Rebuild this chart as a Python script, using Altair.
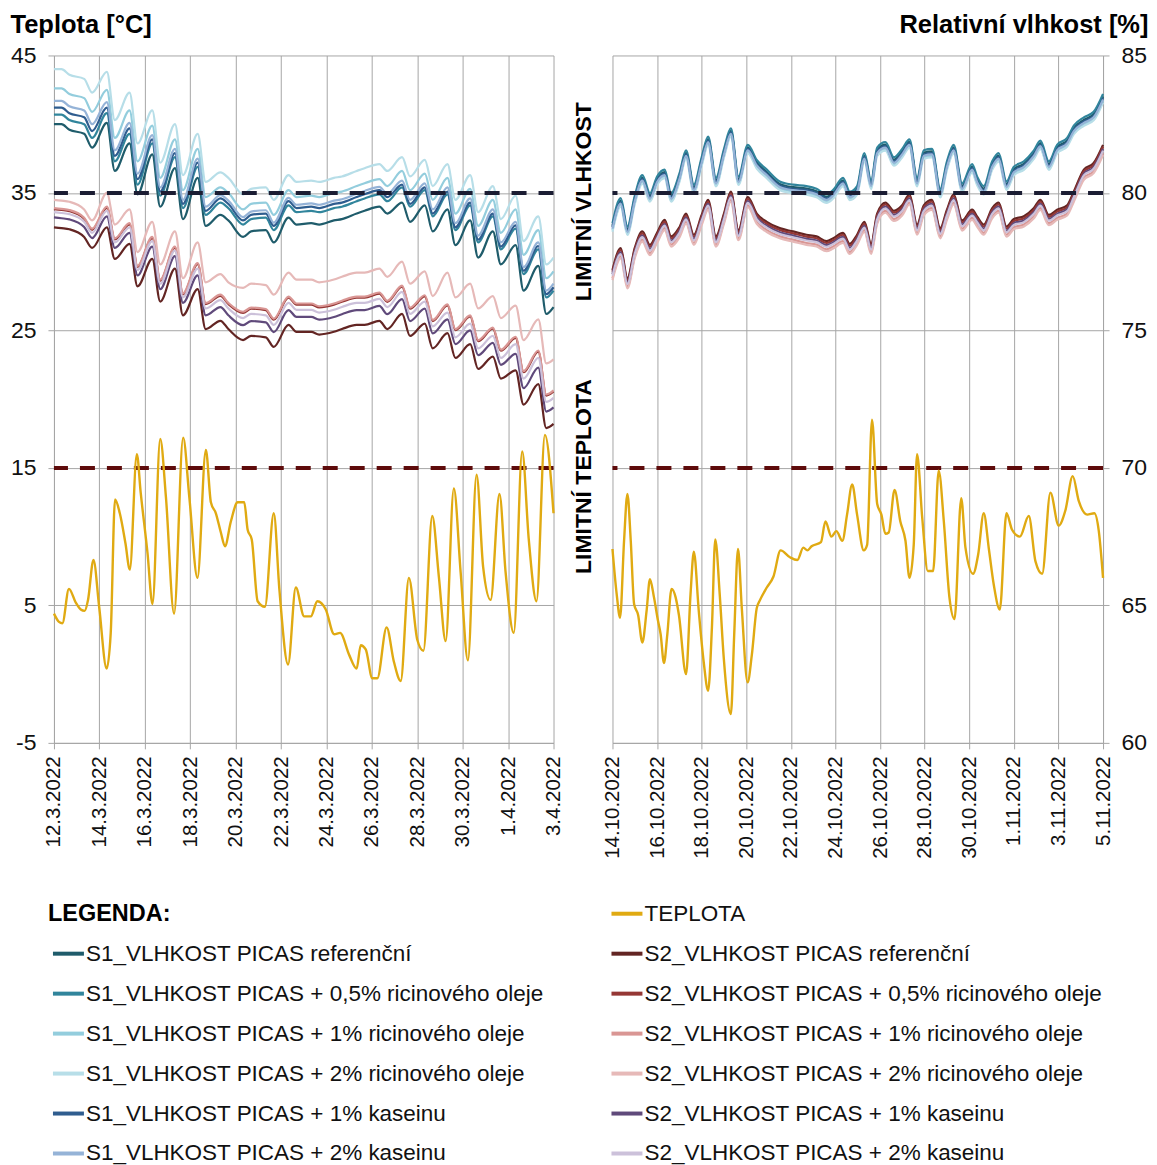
import altair as alt
import pandas as pd

FONT = "Liberation Sans"
INK = "#111111"
GRID = "#a6a6a6"

LEFT_START, LEFT_END = "2022-03-12", "2022-04-03"
RIGHT_START, RIGHT_END = "2022-10-14", "2022-11-05"

T_TICKS = [-5, 5, 15, 25, 35, 45]
RH_TICKS = [60, 65, 70, 75, 80, 85]
RH_LIMIT = 80
T_LIMIT = 15

NAMES_S1 = ["S1_VLHKOST PICAS referenční",
            "S1_VLHKOST PICAS + 0,5% ricinového oleje",
            "S1_VLHKOST PICAS + 1% ricinového oleje",
            "S1_VLHKOST PICAS + 2% ricinového oleje",
            "S1_VLHKOST PICAS + 1% kaseinu",
            "S1_VLHKOST PICAS + 2% kaseinu"]
NAMES_S2 = [n.replace("S1_", "S2_") for n in NAMES_S1]
COLORS_S1 = ["#1f5c6b", "#31859c", "#93cddd", "#b7dee8", "#2f5d8f", "#95b3d7"]
COLORS_S2 = ["#632523", "#953735", "#d99694", "#e6b9b8", "#604a7b", "#ccc1da"]
TEMP_NAME = "TEPLOTA"
TEMP_COLOR = "#e0aa12"
LIM_RH_COLOR = "#1b1d33"
LIM_T_COLOR = "#5e0b0b"

# ---------------- left panel (March 2022), days after 12.3.2022 ----------------
GRID_L = [0, 0.33, 0.68, 1.33, 1.68, 2.33, 2.68, 3.33, 3.68, 4.33, 4.68, 5.33, 5.68, 6.33, 6.68,
          7.33, 7.68, 8.33, 8.68, 9.33, 9.68, 10.33, 10.68, 11.33, 11.68, 12.33, 12.68, 13.33,
          13.68, 14.33, 14.68, 15.33, 15.68, 16.33, 16.68, 17.33, 17.68, 18.33, 18.68, 19.33,
          19.68, 20.33, 20.68, 21.33, 21.68, 22]

S1L_REF = [82.5, 82.5, 82.3, 82.15, 81.65, 82.55, 80.8, 81.8, 79.95, 81.4, 79.5, 80.9, 79.05, 80.55, 78.8, 79.2, 79.0, 78.4, 78.6, 78.65, 78.2, 79.1, 78.85, 78.9, 78.85, 79.0, 79.05, 79.25, 79.35, 79.5, 79.25,
           79.65, 78.95, 79.55, 78.6, 79.4, 78.1, 79.0, 77.65, 78.6, 77.4, 78.1, 76.45, 77.35, 75.6, 75.85]
S1L_R05 = [82.85, 82.85, 82.65, 82.5, 82.0, 82.9, 81.15, 82.15, 80.3, 81.8, 79.9, 81.3, 79.45, 80.95, 79.2, 79.65, 79.45, 78.85, 79.05, 79.1, 78.65, 79.55, 79.3, 79.35, 79.3, 79.45, 79.5, 79.7, 79.8, 79.95, 79.7,
           80.2, 79.5, 80.1, 79.15, 79.95, 78.65, 79.55, 78.2, 79.15, 77.95, 78.7, 77.05, 77.95, 76.2, 76.45]
S1L_R1 = [83.8, 83.8, 83.6, 83.45, 82.95, 83.75, 82.0, 83.0, 81.15, 82.45, 80.55, 81.95, 80.1, 81.6, 79.85, 80.2, 80.0, 79.4, 79.6, 79.65, 79.2, 80.1, 79.85, 79.9, 79.85, 80.0, 80.05, 80.25, 80.35, 80.5, 80.25,
          80.8, 80.1, 80.7, 79.75, 80.55, 79.25, 80.15, 78.8, 79.75, 78.55, 79.4, 77.75, 78.65, 76.9, 77.15]
S1L_R2 = [84.5, 84.5, 84.3, 84.15, 83.65, 84.4, 82.65, 83.65, 81.8, 83.0, 81.1, 82.5, 80.65, 82.15, 80.4, 80.75, 80.55, 79.95, 80.15, 80.2, 79.75, 80.65, 80.4, 80.45, 80.4, 80.55, 80.6, 80.8, 80.9, 81.05, 80.8,
          81.3, 80.6, 81.2, 80.25, 81.05, 79.75, 80.65, 79.3, 80.25, 79.05, 79.9, 78.25, 79.15, 77.4, 77.65]
S1L_K1 = [83.1, 83.1, 82.9, 82.75, 82.25, 83.1, 81.35, 82.35, 80.5, 81.95, 80.05, 81.45, 79.6, 81.1, 79.35, 79.8, 79.6, 79.0, 79.2, 79.25, 78.8, 79.7, 79.45, 79.5, 79.45, 79.6, 79.65, 79.85, 79.95, 80.1, 79.85,
          80.3, 79.6, 80.2, 79.25, 80.05, 78.75, 79.65, 78.3, 79.25, 78.05, 78.82, 77.17, 78.07, 76.32, 76.57]
S1L_K2 = [83.35, 83.35, 83.15, 83.0, 82.5, 83.3, 81.55, 82.55, 80.7, 82.1, 80.2, 81.6, 79.75, 81.25, 79.5, 79.92, 79.72, 79.12, 79.32, 79.37, 78.92, 79.82, 79.57, 79.62, 79.57, 79.72, 79.77, 79.97, 80.07, 80.22, 79.97,
          80.45, 79.75, 80.35, 79.4, 80.2, 78.9, 79.8, 78.45, 79.4, 78.2, 78.95, 77.3, 78.2, 76.45, 76.7]

S2L_REF = [78.75, 78.72, 78.68, 78.4, 78.0, 78.75, 77.6, 78.15, 76.6, 77.6, 76.05, 77.25, 75.55, 76.5, 75.05, 75.35, 75.05,
           74.65, 74.8, 74.75, 74.4, 75.2, 74.95, 74.95, 74.85, 74.95, 75.05, 75.2, 75.2, 75.35, 75.05, 75.6, 74.8, 75.25, 74.35,
           74.9, 74.0, 74.5, 73.6, 74.05, 73.25, 73.55, 72.3, 73.05, 71.45, 71.6]
S2L_R05 = [79.41, 79.38, 79.34, 79.06, 78.66, 79.46, 78.31, 78.86, 77.31, 78.36, 76.81, 78.01, 76.31, 77.41, 75.96, 76.26, 75.96,
           75.64, 75.79, 75.74, 75.39, 76.19, 75.94, 75.94, 75.84, 75.94, 76.04, 76.19, 76.19, 76.34, 76.04, 76.59, 75.79, 76.24, 75.34,
           75.91, 75.01, 75.51, 74.61, 75.06, 74.26, 74.73, 73.48, 74.23, 72.63, 72.78]
S2L_R1 = [79.45, 79.42, 79.38, 79.1, 78.7, 79.5, 78.35, 78.9, 77.35, 78.4, 76.85, 78.05, 76.35, 77.45, 76.0, 76.3, 76.0,
          75.68, 75.83, 75.78, 75.43, 76.23, 75.98, 75.98, 75.88, 75.98, 76.08, 76.23, 76.23, 76.38, 76.08, 76.63, 75.83, 76.28, 75.38,
          75.95, 75.05, 75.55, 74.65, 75.1, 74.3, 74.77, 73.52, 74.27, 72.67, 72.82]
S2L_R2 = [79.75, 79.72, 79.68, 79.4, 79.0, 80.0, 78.85, 79.4, 77.85, 78.95, 77.4, 78.6, 76.9, 78.2, 76.75, 77.05, 76.75,
          76.55, 76.7, 76.65, 76.3, 77.1, 76.85, 76.85, 76.75, 76.85, 76.95, 77.1, 77.1, 77.25, 76.95, 77.5, 76.7, 77.15, 76.25,
          77.1, 76.2, 76.7, 75.8, 76.25, 75.45, 75.9, 74.65, 75.4, 73.8, 73.95]
S2L_K1 = [79.11, 79.08, 79.04, 78.76, 78.36, 79.15, 78.0, 78.55, 77.0, 78.05, 76.5, 77.7, 76.0, 77.0, 75.55, 75.85, 75.55,
          75.19, 75.34, 75.29, 74.94, 75.74, 75.49, 75.49, 75.39, 75.49, 75.59, 75.74, 75.74, 75.89, 75.59, 76.14, 75.34, 75.79, 74.89,
          75.4, 74.5, 75.0, 74.1, 74.55, 73.75, 74.15, 72.9, 73.65, 72.05, 72.2]
S2L_K2 = [79.3, 79.27, 79.23, 78.95, 78.55, 79.35, 78.2, 78.75, 77.2, 78.25, 76.7, 77.9, 76.2, 77.25, 75.8, 76.1, 75.8,
          75.45, 75.6, 75.55, 75.2, 76.0, 75.75, 75.75, 75.65, 75.75, 75.85, 76.0, 76.0, 76.15, 75.85, 76.4, 75.6, 76.05, 75.15,
          75.65, 74.75, 75.25, 74.35, 74.8, 74.0, 74.5, 73.25, 74.0, 72.4, 72.55]

TL_DAYS = [0, 0.22, 0.37, 0.66, 0.96, 1.18, 1.35, 1.5, 1.74, 1.99, 2.32, 2.5, 2.69, 2.9, 3.15, 3.34, 3.65, 3.82, 4.12, 4.34, 4.68, 4.93, 5.29, 5.69, 5.96, 6.32, 6.69, 6.91, 7.13, 7.35, 7.53, 7.79, 8.09, 8.24, 8.38, 8.53, 8.71, 8.97, 9.29, 9.68, 9.93, 10.31, 10.65, 11.02, 11.31, 11.6, 11.97, 12.34, 12.6, 13.0, 13.33, 13.51, 13.73, 14.02, 14.24, 14.65, 14.97, 15.27, 15.63, 16.0, 16.27, 16.66, 16.95, 17.25, 17.61, 17.91, 18.23, 18.61, 18.9, 19.23, 19.62, 19.89, 20.25, 20.62, 20.91, 21.25, 21.62, 22.0]
TL_VALS = [4.4, 3.8, 3.7, 6.2, 5.2, 4.7, 4.6, 5.4, 8.3, 4.9, 0.4, 3.0, 12.7, 11.7, 9.5, 7.6, 16.0, 13.2, 8.8, 5.1, 17.1, 12.9, 4.4, 17.2, 12.9, 7.0, 16.3, 12.5, 11.7, 10.3, 9.3, 11.1, 12.5, 12.5, 12.5, 10.5, 9.8, 5.3, 4.9, 11.7, 6.1, 0.7, 6.3, 4.2, 4.2, 5.3, 4.7, 2.9, 3.0, 1.4, 0.4, 2.1, 1.8, -0.3, -0.3, 3.4, 0.9, -0.5, 7.0, 2.5, 1.7, 11.5, 7.1, 2.4, 13.5, 7.4, 1.0, 14.5, 7.8, 5.4, 13.1, 7.4, 3.0, 16.2, 9.8, 5.3, 17.4, 11.7]

# ---------------- right panel (October 2022), days after 14.10.2022 ----------------
GRID_R = [0, 0.37, 0.67, 1.0, 1.34, 1.68, 2.0, 2.34, 2.63, 3.0, 3.3, 3.65, 4.0, 4.29, 4.64, 5.0, 5.31,
          5.65, 6.07, 6.47, 6.92, 7.5, 8.1, 8.7, 9.15, 9.6, 9.9, 10.34, 10.64, 10.97, 11.3, 11.6,
          11.87, 12.24, 12.62, 12.99, 13.32, 13.66, 13.96, 14.33, 14.7, 15.0, 15.3, 15.68, 16.13,
          16.35, 16.65, 17.03, 17.32, 17.67, 18.0, 18.45, 18.9, 19.19, 19.57, 19.94, 20.39, 20.69,
          21.14, 21.58, 22.0]

S1R_REF = [78.81, 79.72, 78.69, 79.81, 80.56, 79.9, 80.51, 80.76, 79.9, 80.61, 81.46, 80.21, 81.21, 81.96, 80.46, 81.51, 82.26, 80.51, 81.66, 81.11, 80.76, 80.33, 80.21, 80.16, 80.06, 79.86, 80.02, 80.46, 79.96, 80.16, 81.36, 80.36, 81.56, 81.76, 81.21, 81.51, 81.86, 80.46, 81.46, 81.51, 80.06, 81.06, 81.66, 80.26, 80.96, 80.51, 80.16, 81.06, 81.36, 80.33, 80.86, 81.06, 81.46, 81.81, 81.06, 81.66, 81.91, 82.36, 82.66, 82.86, 83.51]
S1R_R05 = [78.9, 79.81, 78.78, 79.9, 80.65, 79.99, 80.6, 80.85, 79.99, 80.7, 81.55, 80.3, 81.3, 82.05, 80.55, 81.6, 82.35, 80.6, 81.75, 81.2, 80.85, 80.42, 80.3, 80.25, 80.15, 79.95, 80.11, 80.55, 80.05, 80.25, 81.45, 80.45, 81.65, 81.85, 81.3, 81.6, 81.95, 80.55, 81.55, 81.6, 80.15, 81.15, 81.75, 80.35, 81.05, 80.6, 80.25, 81.15, 81.45, 80.42, 80.95, 81.15, 81.55, 81.9, 81.15, 81.75, 82.0, 82.45, 82.75, 82.95, 83.6]
S1R_R1 = [78.65, 79.56, 78.53, 79.65, 80.4, 79.74, 80.35, 80.6, 79.74, 80.45, 81.3, 80.05, 81.05, 81.8, 80.3, 81.35, 82.1, 80.35, 81.5, 80.95, 80.6, 80.17, 80.05, 80.0, 79.9, 79.7, 79.86, 80.3, 79.8, 80.0, 81.2, 80.2, 81.4, 81.6, 81.05, 81.35, 81.7, 80.3, 81.3, 81.35, 79.9, 80.9, 81.5, 80.1, 80.8, 80.35, 80.0, 80.9, 81.2, 80.17, 80.7, 80.9, 81.3, 81.65, 80.9, 81.5, 81.75, 82.2, 82.5, 82.7, 83.35]
S1R_R2 = [78.59, 79.5, 78.47, 79.59, 80.34, 79.68, 80.29, 80.54, 79.68, 80.39, 81.24, 79.99, 80.99, 81.74, 80.24, 81.29, 82.04, 80.29, 81.44, 80.89, 80.54, 80.11, 79.99, 79.94, 79.84, 79.64, 79.8, 80.24, 79.74, 79.94, 81.14, 80.14, 81.34, 81.54, 80.99, 81.29, 81.64, 80.24, 81.24, 81.29, 79.84, 80.84, 81.44, 80.04, 80.74, 80.29, 79.94, 80.84, 81.14, 80.11, 80.64, 80.84, 81.24, 81.59, 80.84, 81.44, 81.69, 82.14, 82.44, 82.64, 83.29]
S1R_K1 = [78.75, 79.66, 78.63, 79.75, 80.5, 79.84, 80.45, 80.7, 79.84, 80.55, 81.4, 80.15, 81.15, 81.9, 80.4, 81.45, 82.2, 80.45, 81.6, 81.05, 80.7, 80.27, 80.15, 80.1, 80.0, 79.8, 79.96, 80.4, 79.9, 80.1, 81.3, 80.3, 81.5, 81.7, 81.15, 81.45, 81.8, 80.4, 81.4, 81.45, 80.0, 81.0, 81.6, 80.2, 80.9, 80.45, 80.1, 81.0, 81.3, 80.27, 80.8, 81.0, 81.4, 81.75, 81.0, 81.6, 81.85, 82.3, 82.6, 82.8, 83.45]
S1R_K2 = [78.7, 79.61, 78.58, 79.7, 80.45, 79.79, 80.4, 80.65, 79.79, 80.5, 81.35, 80.1, 81.1, 81.85, 80.35, 81.4, 82.15, 80.4, 81.55, 81.0, 80.65, 80.22, 80.1, 80.05, 79.95, 79.75, 79.91, 80.35, 79.85, 80.05, 81.25, 80.25, 81.45, 81.65, 81.1, 81.4, 81.75, 80.35, 81.35, 81.4, 79.95, 80.95, 81.55, 80.15, 80.85, 80.4, 80.05, 80.95, 81.25, 80.22, 80.75, 80.95, 81.35, 81.7, 80.95, 81.55, 81.8, 82.25, 82.55, 82.75, 83.4]

S2R_REF = [77.2, 77.99, 76.9, 78.0, 78.6, 78.11, 78.55, 79.02, 78.42, 78.75, 79.25, 78.48, 79.2, 79.75, 78.42, 79.25, 80.05, 78.65, 79.85, 79.25, 78.95, 78.72, 78.6, 78.48, 78.42, 78.25, 78.35, 78.55, 78.15, 78.48, 78.95, 78.15, 79.25, 79.65, 79.35, 79.55, 79.95, 78.85, 79.55, 79.75, 78.72, 79.39, 79.95, 79.0, 79.39, 79.15, 78.85, 79.45, 79.65, 78.78, 79.05, 79.15, 79.45, 79.75, 79.2, 79.39, 79.55, 80.05, 80.85, 81.09, 81.75]
S2R_R05 = [77.13, 77.92, 76.83, 77.93, 78.53, 78.04, 78.48, 78.95, 78.35, 78.68, 79.18, 78.41, 79.13, 79.68, 78.35, 79.18, 79.98, 78.58, 79.78, 79.18, 78.88, 78.65, 78.53, 78.41, 78.35, 78.18, 78.28, 78.48, 78.08, 78.41, 78.88, 78.08, 79.18, 79.58, 79.28, 79.48, 79.88, 78.78, 79.48, 79.68, 78.65, 79.32, 79.88, 78.93, 79.32, 79.08, 78.78, 79.38, 79.58, 78.71, 78.98, 79.08, 79.38, 79.68, 79.13, 79.32, 79.48, 79.98, 80.78, 81.02, 81.68]
S2R_R1 = [76.9, 77.69, 76.6, 77.7, 78.3, 77.81, 78.25, 78.72, 78.12, 78.45, 78.95, 78.18, 78.9, 79.45, 78.12, 78.95, 79.75, 78.35, 79.55, 78.95, 78.65, 78.42, 78.3, 78.18, 78.12, 77.95, 78.05, 78.25, 77.85, 78.18, 78.65, 77.85, 78.95, 79.35, 79.05, 79.25, 79.65, 78.55, 79.25, 79.45, 78.42, 79.09, 79.65, 78.7, 79.09, 78.85, 78.55, 79.15, 79.35, 78.48, 78.75, 78.85, 79.15, 79.45, 78.9, 79.09, 79.25, 79.75, 80.55, 80.79, 81.45]
S2R_R2 = [76.83, 77.62, 76.53, 77.63, 78.23, 77.74, 78.18, 78.65, 78.05, 78.38, 78.88, 78.11, 78.83, 79.38, 78.05, 78.88, 79.68, 78.28, 79.48, 78.88, 78.58, 78.35, 78.23, 78.11, 78.05, 77.88, 77.98, 78.18, 77.78, 78.11, 78.58, 77.78, 78.88, 79.28, 78.98, 79.18, 79.58, 78.48, 79.18, 79.38, 78.35, 79.02, 79.58, 78.63, 79.02, 78.78, 78.48, 79.08, 79.28, 78.41, 78.68, 78.78, 79.08, 79.38, 78.83, 79.02, 79.18, 79.68, 80.48, 80.72, 81.38]
S2R_K1 = [77.05, 77.84, 76.75, 77.85, 78.45, 77.96, 78.4, 78.87, 78.27, 78.6, 79.1, 78.33, 79.05, 79.6, 78.27, 79.1, 79.9, 78.5, 79.7, 79.1, 78.8, 78.57, 78.45, 78.33, 78.27, 78.1, 78.2, 78.4, 78.0, 78.33, 78.8, 78.0, 79.1, 79.5, 79.2, 79.4, 79.8, 78.7, 79.4, 79.6, 78.57, 79.24, 79.8, 78.85, 79.24, 79.0, 78.7, 79.3, 79.5, 78.63, 78.9, 79.0, 79.3, 79.6, 79.05, 79.24, 79.4, 79.9, 80.7, 80.94, 81.6]
S2R_K2 = [76.99, 77.78, 76.69, 77.79, 78.39, 77.9, 78.34, 78.81, 78.21, 78.54, 79.04, 78.27, 78.99, 79.54, 78.21, 79.04, 79.84, 78.44, 79.64, 79.04, 78.74, 78.51, 78.39, 78.27, 78.21, 78.04, 78.14, 78.34, 77.94, 78.27, 78.74, 77.94, 79.04, 79.44, 79.14, 79.34, 79.74, 78.64, 79.34, 79.54, 78.51, 79.18, 79.74, 78.79, 79.18, 78.94, 78.64, 79.24, 79.44, 78.57, 78.84, 78.94, 79.24, 79.54, 78.99, 79.18, 79.34, 79.84, 80.64, 80.88, 81.54]

TR_DAYS = [0, 0.19, 0.34, 0.52, 0.67, 0.82, 0.97, 1.15, 1.34, 1.53, 1.68, 1.86, 2.04, 2.16, 2.31, 2.46, 2.65, 2.83, 2.98, 3.3, 3.5, 3.65, 3.87, 4.09, 4.29, 4.46, 4.61, 4.81, 4.99, 5.31, 5.46, 5.63, 5.8, 6.06, 6.25, 6.47, 6.62, 6.92, 7.22, 7.54, 7.96, 8.29, 8.56, 8.74, 8.93, 9.35, 9.55, 9.82, 10.04, 10.31, 10.52, 10.75, 10.97, 11.27, 11.42, 11.64, 11.87, 12.06, 12.24, 12.39, 12.65, 12.91, 13.14, 13.32, 13.51, 13.66, 13.89, 14.14, 14.38, 14.63, 14.86, 15.11, 15.34, 15.64, 15.83, 16.17, 16.4, 16.65, 16.88, 17.1, 17.37, 17.67, 17.92, 18.27, 18.67, 18.97, 19.27, 19.64, 20.01, 20.31, 20.64, 20.91, 21.29, 21.61, 21.81, 22.0]
TR_VALS = [9.1, 5.8, 4.1, 9.7, 13.1, 9.7, 5.1, 4.3, 2.3, 4.6, 6.9, 5.6, 3.9, 2.9, 0.8, 2.9, 6.2, 5.6, 4.3, 0.0, 5.8, 8.9, 4.6, 0.9, -1.2, 3.4, 9.8, 5.8, 1.2, -2.9, 2.9, 9.1, 4.8, -0.6, 1.4, 4.8, 5.4, 6.3, 7.1, 9.0, 8.5, 8.3, 9.2, 9.0, 9.3, 9.6, 11.1, 10.0, 10.4, 9.7, 11.6, 13.8, 11.6, 9.0, 9.4, 18.5, 12.4, 11.6, 10.2, 10.3, 13.4, 11.1, 9.7, 7.0, 9.4, 16.0, 11.4, 7.5, 7.5, 14.8, 11.1, 5.6, 4.0, 12.8, 9.2, 7.3, 8.7, 11.7, 9.1, 6.5, 4.7, 11.7, 10.5, 10.0, 11.5, 8.2, 7.3, 13.2, 10.8, 11.9, 14.4, 12.6, 11.6, 11.7, 10.4, 7.0]

# annotation positions (days before the right panel start, value on its own scale)
ANNOT_DAY = -1.28
ANNOT_RH = 79.68
ANNOT_T = 14.37

NAMES = NAMES_S1 + NAMES_S2
COLORS = COLORS_S1 + COLORS_S2


def stamp(start, days):
    base = pd.Timestamp(start)
    return [(base + pd.Timedelta(days=float(d))).strftime("%Y-%m-%dT%H:%M:%S") for d in days]


def dt(s):
    p = pd.Timestamp(s)
    return alt.DateTime(year=p.year, month=p.month, date=p.day)


def tick_dates(start, end):
    return [dt(d) for d in pd.date_range(start, end, freq="2D")]


def y_axis(values, orient, title, title_x, align):
    return alt.Axis(values=values, orient=orient, labelExpr="'' + datum.value",
                    labelFontSize=23, labelFont=FONT, labelColor=INK, labelPadding=12,
                    grid=True, gridColor=GRID, gridWidth=1, domainColor=GRID, tickColor=GRID,
                    tickSize=6, title=title, titleAngle=0, titleX=title_x, titleY=-23,
                    titleAlign=align, titleBaseline="alphabetic", titleFont=FONT,
                    titleFontSize=25.5, titleFontWeight="bold", titleColor="#000000")


def panel(start, end, grid_days, series, t_days, t_vals, width, side):
    x = alt.X("t:T", scale=alt.Scale(domain=[dt(start), dt(end)]),
              axis=alt.Axis(values=tick_dates(start, end), format="%-d.%-m.%Y", labelAngle=-90,
                            labelFontSize=20.5, labelFont=FONT, labelColor=INK, labelPadding=7,
                            labelOverlap=False, labelFlush=False, grid=True, gridColor=GRID,
                            gridWidth=1, domainColor=GRID, tickColor=GRID, tickSize=6,
                            title=None))
    rh_scale = alt.Scale(domain=[60, 85], nice=False, zero=False)
    t_scale = alt.Scale(domain=[-5, 45], nice=False, zero=False)
    if side == "left":
        rh_axis = None
        t_axis = y_axis(T_TICKS, "left", "Teplota [°C]", -44, "left")
    else:
        rh_axis = y_axis(RH_TICKS, "right", "Relativní vlhkost [%]", 45, "right")
        t_axis = None

    stamps = stamp(start, grid_days)
    rows = []
    for name, vals in series:
        for tt, v in zip(stamps, vals):
            rows.append({"t": tt, "rh": v, "serie": name})
    rh_df = pd.DataFrame(rows)
    t_df = pd.DataFrame({"t": stamp(start, t_days), "temp": t_vals})

    y_rh = alt.Y("rh:Q", scale=rh_scale, axis=rh_axis)
    y_t = alt.Y("temp:Q", scale=t_scale, axis=t_axis)

    rh_lines = alt.Chart(rh_df).mark_line(strokeWidth=2.2, interpolate="monotone").encode(
        x=x, y=y_rh,
        color=alt.Color("serie:N", scale=alt.Scale(domain=NAMES, range=COLORS), legend=None))
    rh_rule = alt.Chart(pd.DataFrame({"rh": [RH_LIMIT]})).mark_rule(
        color=LIM_RH_COLOR, strokeWidth=4, strokeDash=[15, 12]).encode(y=y_rh)
    t_rule = alt.Chart(pd.DataFrame({"temp": [T_LIMIT]})).mark_rule(
        color=LIM_T_COLOR, strokeWidth=4, strokeDash=[15, 12]).encode(y=y_t)
    t_line = alt.Chart(t_df).mark_line(strokeWidth=2.4, color=TEMP_COLOR,
                                       interpolate="monotone").encode(x=x, y=y_t)

    rh_layers = [rh_lines, rh_rule]
    t_layers = [t_rule, t_line]
    if side == "right":
        ann_t = stamp(start, [ANNOT_DAY])[0]
        txt = dict(angle=270, fontSize=23, fontWeight="bold", font=FONT, color="#000000",
                   align="center", baseline="middle")
        rh_layers.append(alt.Chart(pd.DataFrame({"t": [ann_t], "rh": [ANNOT_RH],
                                                 "txt": ["LIMITNÍ VLHKOST"]}))
                         .mark_text(**txt).encode(x=x, y=y_rh, text="txt:N"))
        t_layers.append(alt.Chart(pd.DataFrame({"t": [ann_t], "temp": [ANNOT_T],
                                                "txt": ["LIMITNÍ TEPLOTA"]}))
                        .mark_text(**txt).encode(x=x, y=y_t, text="txt:N"))

    return alt.layer(alt.layer(*rh_layers), alt.layer(*t_layers)).resolve_scale(
        y="independent").properties(width=width, height=688)


left = panel(LEFT_START, LEFT_END, GRID_L,
             list(zip(NAMES_S1, [S1L_REF, S1L_R05, S1L_R1, S1L_R2, S1L_K1, S1L_K2])) +
             list(zip(NAMES_S2, [S2L_REF, S2L_R05, S2L_R1, S2L_R2, S2L_K1, S2L_K2])),
             TL_DAYS, TL_VALS, 500, "left")
right = panel(RIGHT_START, RIGHT_END, GRID_R,
              list(zip(NAMES_S1, [S1R_REF, S1R_R05, S1R_R1, S1R_R2, S1R_K1, S1R_K2])) +
              list(zip(NAMES_S2, [S2R_REF, S2R_R05, S2R_R1, S2R_R2, S2R_K1, S2R_K2])),
              TR_DAYS, TR_VALS, 491, "right")


def legend_cell(header, labels, colors, first_row, width):
    yenc = alt.Y("row:O", scale=alt.Scale(type="point", domain=list(range(7)), padding=0),
                 axis=None)
    items = pd.DataFrame({"row": list(range(first_row, first_row + len(labels))),
                          "label": labels, "color": colors})
    layers = [
        alt.Chart(items).mark_rule(strokeWidth=4).encode(
            y=yenc, x=alt.value(-1), x2=alt.value(30), color=alt.Color("color:N", scale=None)),
        alt.Chart(items).mark_text(align="left", baseline="middle", fontSize=22.5, font=FONT,
                                   color=INK).encode(y=yenc, x=alt.value(32), text="label:N"),
    ]
    if header:
        layers.append(alt.Chart(pd.DataFrame({"row": [0], "label": [header]})).mark_text(
            align="left", baseline="middle", fontSize=23.5, font=FONT, fontWeight="bold",
            color="#000000").encode(y=yenc, x=alt.value(-6), text="label:N"))
    return alt.layer(*layers).properties(width=width, height=240)


legL = legend_cell("LEGENDA:", NAMES_S1, COLORS_S1, 1, 500)
legR = legend_cell(None, [TEMP_NAME] + NAMES_S2, [TEMP_COLOR] + COLORS_S2, 0, 491)

chart = alt.concat(left, right, legL, legR, columns=2,
                   spacing={"row": 171, "column": 59}, bounds="flush").properties(
    padding={"left": 1, "top": 3, "right": 0, "bottom": 0}, background="white"
).configure_view(stroke="transparent")

chart.save("out.html", embed_options={"renderer": "svg", "actions": False})
